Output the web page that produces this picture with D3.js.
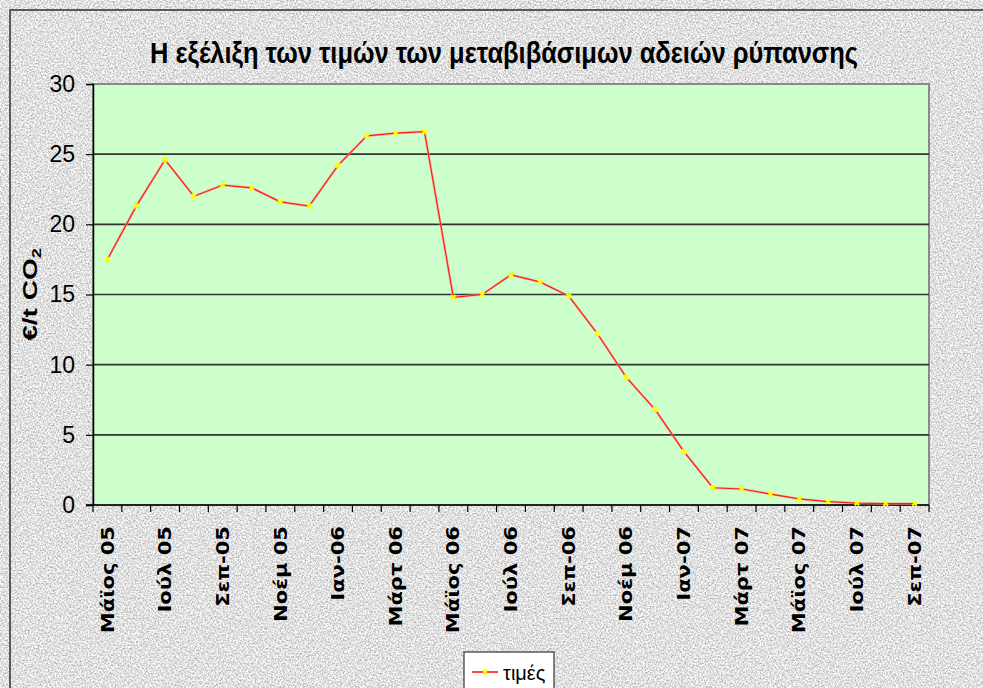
<!DOCTYPE html>
<html>
<head>
<meta charset="utf-8">
<script src="https://cdn.jsdelivr.net/npm/d3@7/dist/d3.min.js"></script>
<style>
    html, body { margin: 0; padding: 0; background: #ffffff; }
    svg { display: block; }
</style>
</head>
<body>
<div id="chart"></div>
<script>
// data
const months = [
    "Μάϊος 05", "Ιούν 05", "Ιούλ 05", "Αύγ 05", "Σεπ-05", "Οκτ-05", "Νοέμ 05", "Δεκ 05",
    "Ιαν-06", "Φεβ-06", "Μάρτ 06", "Απρ 06", "Μάϊος 06", "Ιούν 06", "Ιούλ 06", "Αύγ 06",
    "Σεπ-06", "Οκτ-06", "Νοέμ 06", "Δεκ 06", "Ιαν-07", "Φεβ-07", "Μάρτ 07", "Απρ 07",
    "Μάϊος 07", "Ιούν 07", "Ιούλ 07", "Αύγ 07", "Σεπ-07"
];
const prices = [
    17.5, 21.3, 24.6, 22.0, 22.8, 22.6, 21.6, 21.3,
    24.2, 26.3, 26.5, 26.6, 14.8, 15.0, 16.4, 15.9,
    14.9, 12.2, 9.1, 6.8, 3.8, 1.23, 1.14, 0.78,
    0.43, 0.24, 0.14, 0.1, 0.1
];
const yTicks = [0, 5, 10, 15, 20, 25, 30];
const title = "Η εξέλιξη των τιμών των μεταβιβάσιμων αδειών ρύπανσης";
const yTitle = "€/t CO";
const seriesName = "τιμές";

// constants
const WIDTH = 983;
const HEIGHT = 688;
const PLOT_LEFT = 93;
const PLOT_RIGHT = 929;
const PLOT_TOP = 84;
const PLOT_BOTTOM = 505;
const TICK_LEN = 7;
const PLOT_FILL = "#ccffcc";
const LINE_COLOUR = "#ff1a1a";
const MARKER_COLOUR = "#ffff00";

const svg = d3.select("#chart").append("svg")
    .attr("width", WIDTH)
    .attr("height", HEIGHT);

const x = d3.scaleBand().domain(months).range([PLOT_LEFT, PLOT_RIGHT]);
const y = d3.scaleLinear().domain([0, 30]).range([PLOT_BOTTOM, PLOT_TOP]);

drawBackground();
drawPlot();
drawAxes();
drawSeries();
drawLegend();

function drawBackground() {
    const defs = svg.append("defs");
    const f = defs.append("filter")
        .attr("id", "granite")
        .attr("color-interpolation-filters", "sRGB")
        .attr("filterUnits", "userSpaceOnUse")
        .attr("x", 0).attr("y", 0).attr("width", WIDTH).attr("height", HEIGHT);
    f.append("feTurbulence")
        .attr("type", "fractalNoise")
        .attr("baseFrequency", 0.6)
        .attr("numOctaves", 3)
        .attr("seed", 7)
        .attr("result", "noise");
    f.append("feColorMatrix")
        .attr("in", "noise")
        .attr("type", "matrix")
        .attr("values", "0.6 0 0 0 0.58  0.6 0 0 0 0.58  0.6 0 0 0 0.58  0 0 0 0 1");

    // frame: flat grey base with a speckled overlay
    svg.append("rect")
        .attr("x", 10).attr("y", 10)
        .attr("width", WIDTH + 20).attr("height", HEIGHT + 20)
        .attr("fill", "#e3e3e3");
    svg.append("rect")
        .attr("x", 10).attr("y", 10)
        .attr("width", WIDTH + 20).attr("height", HEIGHT + 20)
        .attr("fill", "#e3e3e3")
        .attr("filter", "url(#granite)");
    svg.append("rect")
        .attr("x", 10).attr("y", 10)
        .attr("width", WIDTH + 20).attr("height", HEIGHT + 20)
        .attr("fill", "none")
        .attr("stroke", "#5a5a5a")
        .attr("stroke-width", 2);

    svg.append("text")
        .attr("x", 150).attr("y", 63)
        .attr("textLength", 708)
        .attr("lengthAdjust", "spacingAndGlyphs")
        .style("font-family", "'Liberation Sans', Arial, sans-serif")
        .style("font-weight", "bold")
        .style("font-size", "29px")
        .attr("fill", "#000")
        .text(title);
}

function drawPlot() {
    svg.append("rect")
        .attr("x", PLOT_LEFT).attr("y", PLOT_TOP)
        .attr("width", PLOT_RIGHT - PLOT_LEFT)
        .attr("height", PLOT_BOTTOM - PLOT_TOP)
        .attr("fill", PLOT_FILL)
        .attr("stroke", "#8a8a8a")
        .attr("stroke-width", 2);

    // gridlines
    svg.append("g").selectAll("line")
        .data(yTicks.filter(d => d > 0 && d < 30))
        .join("line")
        .attr("x1", PLOT_LEFT).attr("x2", PLOT_RIGHT)
        .attr("y1", d => y(d)).attr("y2", d => y(d))
        .attr("stroke", "#333")
        .attr("stroke-width", 1.6);
}

function drawAxes() {
    const yAxis = svg.append("g")
        .attr("transform", "translate(" + PLOT_LEFT + ",0)")
        .call(d3.axisLeft(y).tickValues(yTicks).tickSize(TICK_LEN).tickPadding(11));
    yAxis.select(".domain").attr("stroke", "#000").attr("stroke-width", 1.5);
    yAxis.selectAll(".tick line").attr("stroke", "#000").attr("stroke-width", 1.2);
    yAxis.selectAll(".tick text")
        .style("font-family", "'Liberation Sans', Arial, sans-serif")
        .style("font-size", "23px")
        .attr("fill", "#000");

    // x axis line and ticks at category boundaries
    const xAxis = svg.append("g");
    xAxis.append("line")
        .attr("x1", PLOT_LEFT - TICK_LEN).attr("x2", PLOT_RIGHT)
        .attr("y1", PLOT_BOTTOM).attr("y2", PLOT_BOTTOM)
        .attr("stroke", "#000").attr("stroke-width", 1.5);
    const edges = months.map(m => x(m)).concat([x.range()[1]]);
    xAxis.selectAll(".edge")
        .data(edges)
        .join("line")
        .attr("class", "edge")
        .attr("x1", d => d).attr("x2", d => d)
        .attr("y1", PLOT_BOTTOM).attr("y2", PLOT_BOTTOM + TICK_LEN)
        .attr("stroke", "#000").attr("stroke-width", 1.2);

    xAxis.selectAll(".xlabel")
        .data(months.filter((m, i) => i % 2 === 0))
        .join("text")
        .attr("class", "xlabel")
        .attr("transform", d => "translate(" + (x(d) + x.bandwidth() / 2) + "," + (PLOT_BOTTOM + 21) + ") rotate(-90) scale(1.24,1)")
        .attr("text-anchor", "end")
        .attr("dy", "0.36em")
        .style("font-family", "'DejaVu Sans', Verdana, sans-serif")
        .style("font-weight", "bold")
        .style("font-size", "17px")
        .attr("fill", "#000")
        .text(d => d);

    // y title with subscript
    const yt = svg.append("text")
        .attr("transform", "translate(37," + ((PLOT_TOP + PLOT_BOTTOM) / 2) + ") rotate(-90) scale(1.4,1)")
        .attr("text-anchor", "middle")
        .style("font-family", "'Liberation Sans', Arial, sans-serif")
        .style("font-weight", "bold")
        .style("font-size", "20px")
        .attr("fill", "#000");
    yt.append("tspan").text(yTitle);
    yt.append("tspan")
        .attr("dy", 4)
        .style("font-size", "13px")
        .text("2");
}

function drawSeries() {
    const cx = d => x(d) + x.bandwidth() / 2;
    const line = d3.line()
        .x((d, i) => cx(months[i]))
        .y(d => y(d));

    svg.append("path")
        .datum(prices)
        .attr("fill", "none")
        .attr("stroke", "#ff9a8a")
        .attr("stroke-width", 2.6)
        .attr("stroke-opacity", 0.6)
        .attr("d", line);
    svg.append("path")
        .datum(prices)
        .attr("fill", "none")
        .attr("stroke", LINE_COLOUR)
        .attr("stroke-width", 1.2)
        .attr("d", line);

    svg.append("g").selectAll("path")
        .data(prices)
        .join("path")
        .attr("transform", (d, i) => "translate(" + cx(months[i]) + "," + y(d) + ") rotate(45)")
        .attr("d", d3.symbol().type(d3.symbolCross).size(22))
        .attr("fill", MARKER_COLOUR);
}

function drawLegend() {
    const g = svg.append("g").attr("transform", "translate(464,652)");
    g.append("rect")
        .attr("width", 90).attr("height", 60)
        .attr("fill", "#fff")
        .attr("stroke", "#333")
        .attr("stroke-width", 1.2);
    g.append("line")
        .attr("x1", 8).attr("x2", 34)
        .attr("y1", 20).attr("y2", 20)
        .attr("stroke", LINE_COLOUR)
        .attr("stroke-width", 1.6);
    g.append("path")
        .attr("transform", "translate(21,20) rotate(45)")
        .attr("d", d3.symbol().type(d3.symbolCross).size(22))
        .attr("fill", MARKER_COLOUR);
    g.append("text")
        .attr("x", 39).attr("y", 28)
        .style("font-family", "'Liberation Sans', Arial, sans-serif")
        .style("font-size", "20px")
        .attr("fill", "#000")
        .text(seriesName);
}
</script>
</body>
</html>
